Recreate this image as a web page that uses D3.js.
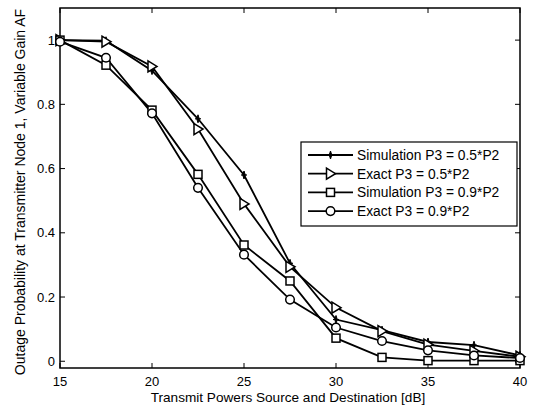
<!DOCTYPE html>
<html>
<head>
<meta charset="utf-8">
<script src="https://d3js.org/d3.v7.min.js"></script>
<style>
  body { margin: 0; background: #fff; }
  text { font-family: "Liberation Sans", Arial, sans-serif; fill: #000; }
</style>
</head>
<body>
<div id="chart"></div>
<script>
// transmit power values (dB)
const snr = [15, 17.5, 20, 22.5, 25, 27.5, 30, 32.5, 35, 37.5, 40];

// outage probability, one array per curve
const sim05   = [1.0, 0.998, 0.905, 0.755, 0.58, 0.305, 0.13, 0.097, 0.06, 0.05, 0.018];
const exact05 = [1.0, 0.995, 0.918, 0.723, 0.49, 0.294, 0.167, 0.094, 0.052, 0.032, 0.014];
const sim09   = [1.0, 0.922, 0.782, 0.582, 0.362, 0.25, 0.072, 0.012, 0.002, 0.002, 0.002];
const exact09 = [0.995, 0.945, 0.772, 0.54, 0.332, 0.192, 0.105, 0.063, 0.034, 0.018, 0.01];

const seriesNames = ["Simulation P3 = 0.5*P2", "Exact P3 = 0.5*P2",
                     "Simulation P3 = 0.9*P2", "Exact P3 = 0.9*P2"];
const seriesMarkers = ["star", "triangle", "square", "circle"];
const xTicks = [15, 20, 25, 30, 35, 40];
const yTicks = [0, 0.2, 0.4, 0.6, 0.8, 1];

const W = 533, H = 408;
const margin = { top: 8, right: 13, bottom: 40, left: 60 };
const width = W - margin.left - margin.right,
      height = H - margin.top - margin.bottom;

const svg = d3.select("#chart").append("svg")
    .attr("width", W).attr("height", H);
const g = svg.append("g")
    .attr("transform", `translate(${margin.left},${margin.top})`);

const x = d3.scaleLinear().domain([15, 40]).range([0, width]);
const y = d3.scaleLinear().domain([-0.021, 1.1]).range([height, 0]);

// box
g.append("rect").attr("width", width).attr("height", height)
    .attr("fill", "none").attr("stroke", "#000").attr("stroke-width", 1.5);

// ticks (inside, all four sides) + labels
const tk = 5;
xTicks.forEach(t => {
    g.append("line").attr("x1", x(t)).attr("x2", x(t)).attr("y1", height).attr("y2", height - tk)
        .attr("stroke", "#000");
    g.append("line").attr("x1", x(t)).attr("x2", x(t)).attr("y1", 0).attr("y2", tk)
        .attr("stroke", "#000");
    g.append("text").attr("x", x(t)).attr("y", height + 17.5)
        .attr("text-anchor", "middle").style("font-size", "13px").text(t);
});
yTicks.forEach(t => {
    g.append("line").attr("x1", 0).attr("x2", tk).attr("y1", y(t)).attr("y2", y(t))
        .attr("stroke", "#000");
    g.append("line").attr("x1", width).attr("x2", width - tk).attr("y1", y(t)).attr("y2", y(t))
        .attr("stroke", "#000");
    g.append("text").attr("x", -5).attr("y", y(t)).attr("dy", "0.35em")
        .attr("text-anchor", "end").style("font-size", "13px").text(t);
});

// axis titles
g.append("text").attr("x", width / 2 - 2).attr("y", height + 34)
    .attr("text-anchor", "middle").style("font-size", "13.6px")
    .text("Transmit Powers Source and Destination [dB]");
g.append("text").attr("transform", `translate(${-35},${height / 2 + 4}) rotate(-90)`)
    .attr("text-anchor", "middle").style("font-size", "14px")
    .text("Outage Probability at Transmitter Node 1, Variable Gain AF");

// marker drawer
function drawMarker(sel, type, cx, cy) {
    const m = sel.append("g").attr("transform", `translate(${cx},${cy})`)
        .attr("fill", "none").attr("stroke", "#000").attr("stroke-width", 1.5);
    if (type === "star") {
        m.append("path").attr("d", "M0,-4L1.3,0L0,4L-1.3,0Z").attr("fill", "#000").attr("stroke-width", 1);
        m.append("path").attr("d", "M-3,0H3").attr("stroke-width", 1.2);
    } else if (type === "triangle") {
        m.append("path").attr("d", "M-4,-5.5L5,0L-4,5.5Z").attr("fill", "#fff");
    } else if (type === "square") {
        m.append("rect").attr("x", -4).attr("y", -4).attr("width", 8).attr("height", 8).attr("fill", "#fff");
    } else {
        m.append("circle").attr("r", 4.3).attr("fill", "#fff");
    }
}

const allSeries = [sim05, exact05, sim09, exact09];
const line = d3.line().x((d, i) => x(snr[i])).y(d => y(d));

allSeries.forEach((vals, k) => {
    g.append("path").datum(vals).attr("d", line)
        .attr("fill", "none").attr("stroke", "#000").attr("stroke-width", 1.8);
});
allSeries.forEach((vals, k) => {
    vals.forEach((v, i) => drawMarker(g, seriesMarkers[k], x(snr[i]), y(v)));
});

// legend
const lg = svg.append("g").attr("transform", "translate(301,142)");
lg.append("rect").attr("width", 216).attr("height", 84)
    .attr("fill", "#fff").attr("stroke", "#000").attr("stroke-width", 1.2);
seriesNames.forEach((name, k) => {
    const ly = 13 + k * 18.7;
    lg.append("line").attr("x1", 7).attr("x2", 52).attr("y1", ly).attr("y2", ly)
        .attr("stroke", "#000").attr("stroke-width", 1.8);
    drawMarker(lg, seriesMarkers[k], 29.5, ly);
    lg.append("text").attr("x", 56).attr("y", ly).attr("dy", "0.36em")
        .style("font-size", "13.8px").text(name);
});
</script>
</body>
</html>
